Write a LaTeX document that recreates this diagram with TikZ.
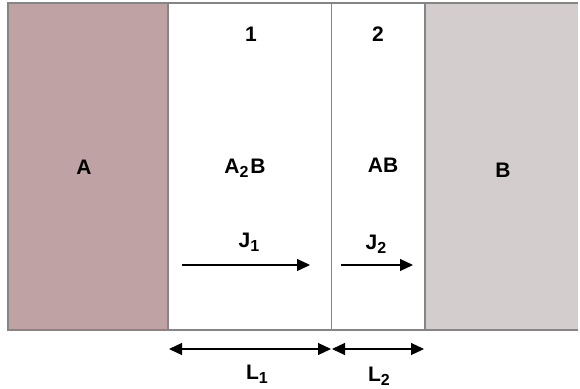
\documentclass[tikz,border=0pt]{standalone}
\usepackage{fontspec}
\setmainfont{Liberation Sans}
\usetikzlibrary{arrows.meta}
\definecolor{phaseA}{HTML}{BFA3A4}
\definecolor{phaseB}{HTML}{D3CDCD}
\definecolor{edge}{HTML}{858585}
\newcommand{\sbs}[1]{\raisebox{-0.4ex}{\fontsize{16}{16}\selectfont #1}}
\tikzset{
  lbl/.style={font=\fontsize{21}{21}\selectfont\bfseries, inner sep=0pt},
  flux/.style={-{Triangle[length=13pt,width=12pt]}, line width=1.2pt},
  span/.style={{Triangle[length=13pt,width=12pt]}-{Triangle[length=13pt,width=12pt]}, line width=1.2pt}
}
\begin{document}
\begin{tikzpicture}[x=1pt,y=-1pt]
\useasboundingbox (0,0) rectangle (580,388);
% phases
\fill[phaseA] (8,3) rectangle (168,330);
\fill[phaseB] (425,3) rectangle (578,330);
\draw[edge, line width=1.2pt] (168,3) -- (168,330);
\draw[edge, line width=1pt] (331,3) -- (331,330);
\draw[edge, line width=1.2pt] (425,3) -- (425,330);
\draw[edge, line width=1.8pt] (578,3) -- (8,3) -- (8,330) -- (578,330);
% labels
\node[lbl] (a) at (84,167) {A};
\node[lbl] (b) at (503,170) {B};
\node[lbl] (n1) at (251,34) {1};
\node[lbl] (n2) at (378,34) {2};
\node[lbl] (a2b) at (245,168) {A\sbs{2}\kern2pt B};
\node[lbl] (ab) at (383,165) {AB};
\node[lbl] (j1) at (249,242) {J\sbs{1}};
\node[lbl] (j2) at (376,244) {J\sbs{2}};
\node[lbl] (l1) at (257,374) {L\sbs{1}};
\node[lbl] (l2) at (379,376) {L\sbs{2}};
% flux arrows
\coordinate (f1s) at (182,265);
\coordinate (f1e) at (310,265);
\coordinate (f2s) at (341,265);
\coordinate (f2e) at (413,265);
\draw[flux] (f1s) -- (f1e);
\draw[flux] (f2s) -- (f2e);
% thickness spans
\coordinate (s1a) at (169,349);
\coordinate (s1b) at (331,349);
\coordinate (s2a) at (332,349);
\coordinate (s2b) at (424,349);
\draw[span] (s1a) -- (s1b);
\draw[span] (s2a) -- (s2b);
\end{tikzpicture}
\end{document}
